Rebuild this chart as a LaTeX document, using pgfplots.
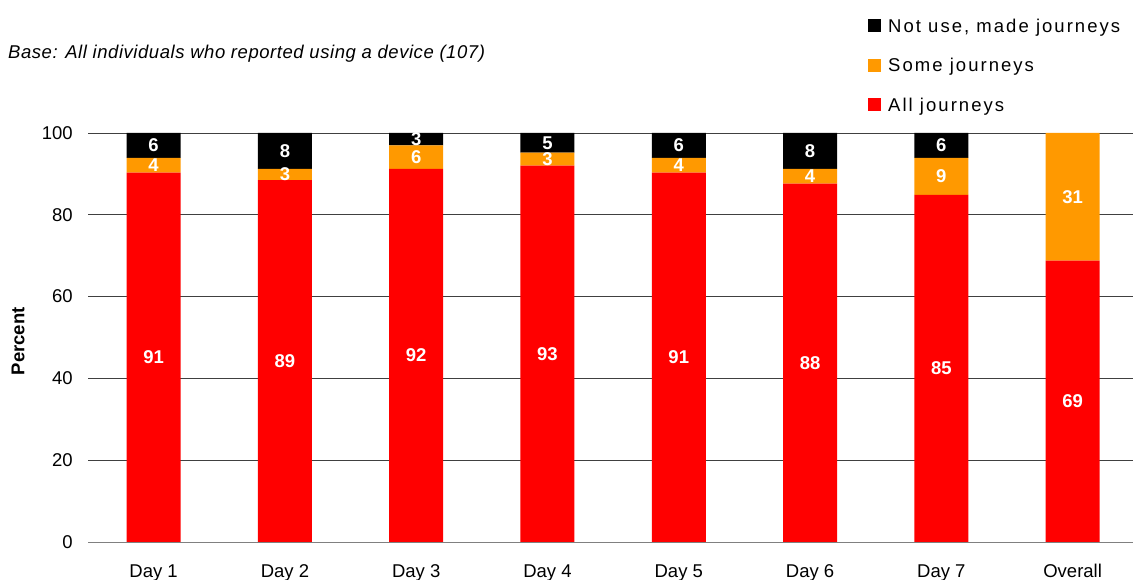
\documentclass[border=0pt]{standalone}
\usepackage{pgfplots}
\pgfplotsset{compat=1.18}
\usepackage{pgfplotstable}
\usepackage{fontspec}
\setmainfont{Liberation Sans}
\newfontfamily\legfont[LetterSpace=11]{Liberation Sans}
\newfontfamily\basefont[LetterSpace=3]{Liberation Sans}
\definecolor{cred}{HTML}{FF0000}
\definecolor{corange}{HTML}{FF9900}
\pgfplotstableread{
x red redl orange orangel black blackl
0 90.3 91 3.6 4 6.1 6
1 88.5 89 2.7 3 8.8 8
2 91.2 92 5.8 6 3.0 3
3 92.0 93 3.2 3 4.8 5
4 90.3 91 3.6 4 6.1 6
5 87.6 88 3.6 4 8.8 8
6 84.9 85 9.0 9 6.1 6
7 68.8 69 31.2 31 0 {}
}\data
\begin{document}
\fontsize{18.5bp}{22bp}\selectfont
\begin{tikzpicture}
\begin{axis}[
  at={(88bp,38bp)}, anchor=south west, scale only axis,
  width=1045bp, height=409bp,
  ybar stacked, bar width=54bp,
  xmin=-0.5, xmax=7.46, ymin=0, ymax=100,
  xtick={0,...,7},
  xticklabels={Day 1,Day 2,Day 3,Day 4,Day 5,Day 6,Day 7,Overall},
  ytick={20,40,...,100},
  extra y ticks={0}, extra y tick style={grid=none},
  ymajorgrids, major grid style={black!75, line width=0.9bp},
  axis x line*=bottom, x axis line style={gray, line width=1bp, -},
  axis y line*=left, y axis line style={draw=none},
  tick style={draw=none},
  /pgf/number format/assume math mode=true,
  xticklabel style={yshift=-16bp},
  yticklabel style={xshift=-9bp},
  ylabel={\textbf{Percent}},
  ylabel style={at={(axis description cs:-0.067,0.491)}, anchor=center},
  point meta=explicit symbolic,
  nodes near coords,
  every node near coord/.append style={font=\bfseries, text=white, anchor=center},
  reverse legend,
  legend style={at={(axis description cs:0.7464,1.2787)}, anchor=north west, draw=none, fill=none,
    row sep=22.5bp, inner sep=0pt, column sep=7bp,
    nodes={inner sep=0pt, text height=13bp, text depth=4bp, anchor=base west}, font=\legfont},
  legend cell align=left,
  legend image code/.code={\fill[#1,draw=none] (0bp,0bp) rectangle (13bp,13bp);},
]
\addplot[fill=cred, draw=none] table[x=x, y=red, meta=redl] {\data};
\addlegendentry{All journeys}
\addplot[fill=corange, draw=none] table[x=x, y=orange, meta=orangel] {\data};
\addlegendentry{Some journeys}
\addplot[fill=black, draw=none] table[x=x, y=black, meta=blackl] {\data};
\addlegendentry{Not use, made journeys}
\end{axis}
\node[anchor=base west, inner sep=0pt, font=\basefont\itshape] at (8bp,521bp) {Base: All individuals who reported using a device (107)};
\pgfresetboundingbox
\path[use as bounding box] (0,0) rectangle (1133bp,580bp);
\end{tikzpicture}
\end{document}
